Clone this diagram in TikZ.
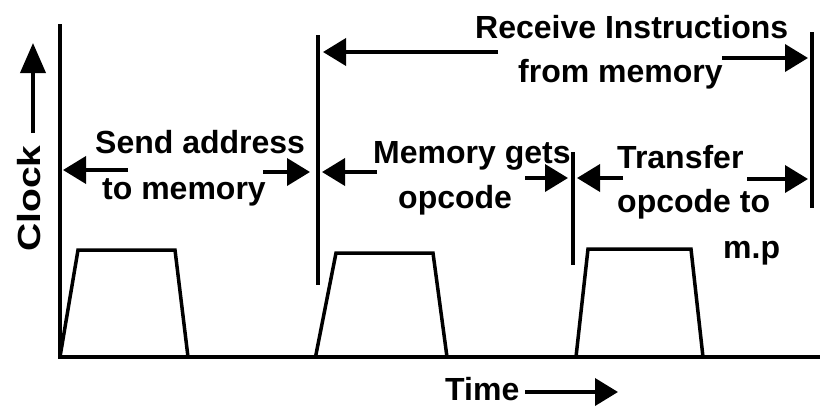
\documentclass[tikz,border=0pt]{standalone}
\usepackage{fontspec}
\setmainfont{Liberation Sans}
\usetikzlibrary{arrows.meta}
\begin{document}
\begin{tikzpicture}[x=1pt,y=-1pt,
  lbl/.style={anchor=base west, inner sep=0pt, font=\fontsize{32}{38}\selectfont\bfseries},
  axisline/.style={line width=4.5pt, line join=miter},
  pulse/.style={line width=3.5pt, line join=miter},
  marker/.style={line width=4.5pt},
  dimarrow/.style={line width=3.8pt, -{Triangle[length=23pt,width=27pt]}},
  vdimarrow/.style={line width=3.8pt, -{Triangle[length=30pt,width=25pt]}}]
\useasboundingbox (0,0) rectangle (840,407);

% axes
\coordinate (ytop) at (60,24);
\coordinate (orig) at (60,357);
\coordinate (xend) at (820,357);
\draw[axisline] (ytop) -- (orig) -- (xend);

% clock pulses
\draw[pulse] (60,357) -- (78,250) -- (175,250) -- (188,357);
\draw[pulse] (315.5,357) -- (336,253) -- (433,253) -- (447,357);
\draw[pulse] (576,357) -- (588,249) -- (691,249) -- (703,357);

% vertical markers
\coordinate (m1t) at (318,35);  \coordinate (m1b) at (318,285);
\coordinate (m2t) at (573,152); \coordinate (m2b) at (573,265);
\coordinate (m3t) at (812,32);  \coordinate (m3b) at (812,208);
\draw[marker] (m1t) -- (m1b);
\draw[marker] (m2t) -- (m2b);
\draw[marker] (m3t) -- (m3b);

% labels
\node[lbl] (sa1) at (95,153) {Send address};
\node[lbl] (sa2) at (102,199) {to memory};
\node[lbl] (ri1) at (475,38) {Receive Instructions};
\node[lbl] (ri2) at (518,82) {from memory};
\node[lbl] (mg1) at (373,163) {Memory gets};
\node[lbl] (mg2) at (398,208) {opcode};
\node[lbl] (tr1) at (617,168) {Transfer};
\node[lbl] (tr2) at (617,212) {opcode to};
\node[lbl] (tr3) at (723,258) {m.p};
\node[lbl] (time) at (445,400) {Time};
\node[inner sep=0pt, rotate=90, font=\fontsize{32}{38}\selectfont\bfseries] (clock) at (29.5,198.5) {\scalebox{1.22}[1]{Clock}};

% arrow end points
\coordinate (saLa) at (128,170); \coordinate (saLb) at (63,170);
\coordinate (saRa) at (263,172); \coordinate (saRb) at (310,172);
\coordinate (riLa) at (498,52);  \coordinate (riLb) at (323,52);
\coordinate (riRa) at (722,58);  \coordinate (riRb) at (808,58);
\coordinate (mgLa) at (377,172); \coordinate (mgLb) at (322,172);
\coordinate (mgRa) at (525,178); \coordinate (mgRb) at (568,178);
\coordinate (trLa) at (623,178); \coordinate (trLb) at (577,178);
\coordinate (trRa) at (747,179); \coordinate (trRb) at (808,179);
\coordinate (ckA) at (33,133);   \coordinate (ckB) at (33,43);
\coordinate (tmA) at (525,392);  \coordinate (tmB) at (618,392);

\draw[dimarrow] (saLa) -- (saLb);
\draw[dimarrow] (saRa) -- (saRb);
\draw[dimarrow] (riLa) -- (riLb);
\draw[dimarrow] (riRa) -- (riRb);
\draw[dimarrow] (mgLa) -- (mgLb);
\draw[dimarrow] (mgRa) -- (mgRb);
\draw[dimarrow] (trLa) -- (trLb);
\draw[dimarrow] (trRa) -- (trRb);
\draw[vdimarrow] (ckA) -- (ckB);
\draw[dimarrow] (tmA) -- (tmB);
\end{tikzpicture}
\end{document}
